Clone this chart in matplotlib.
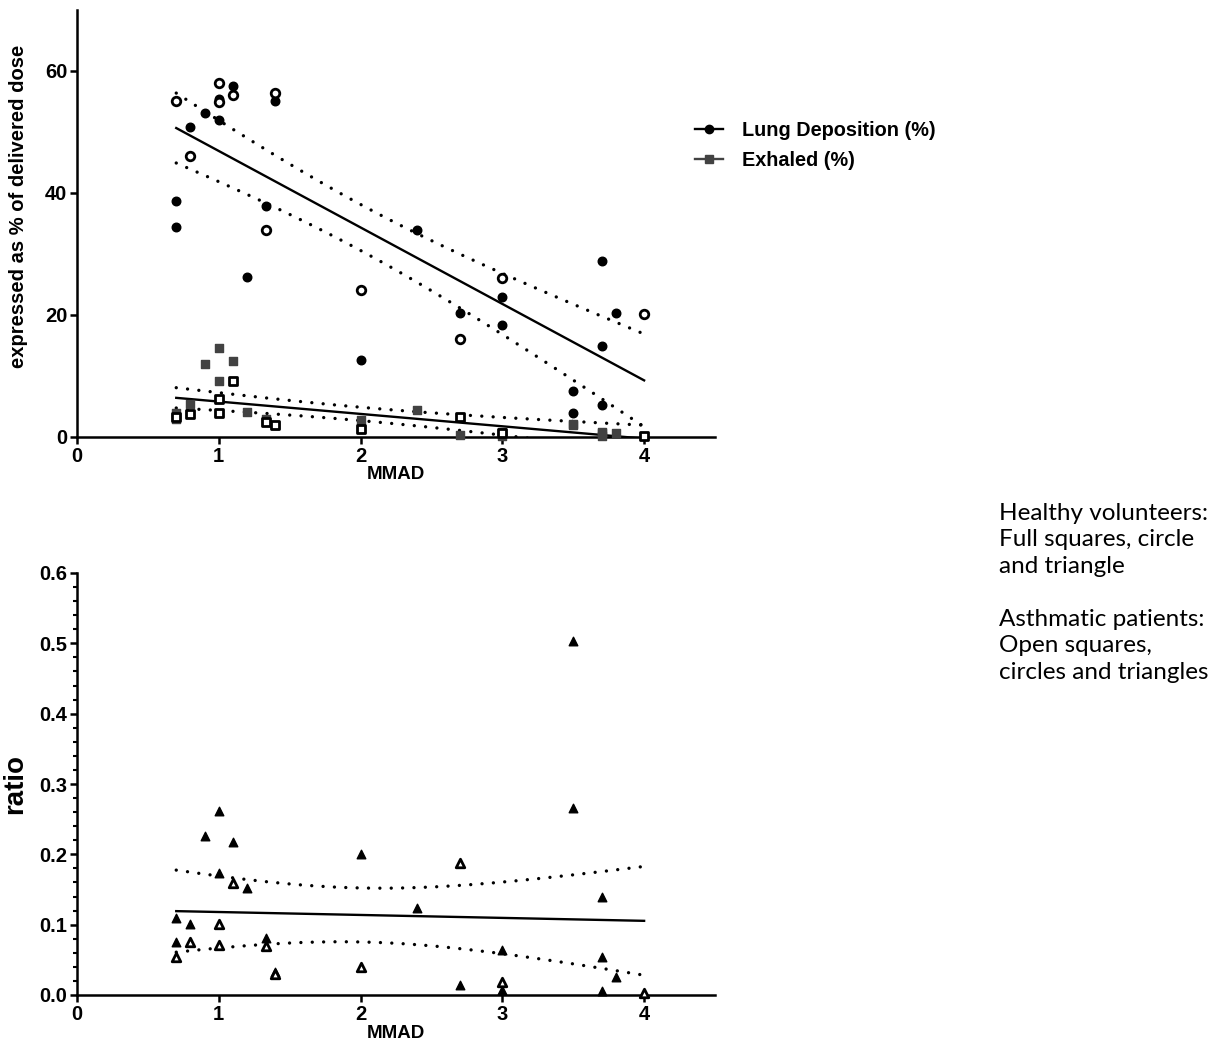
import numpy as np
import matplotlib
matplotlib.use("Agg")
import matplotlib.pyplot as plt
from matplotlib.lines import Line2D
from matplotlib.ticker import MultipleLocator

# ---------------- data ----------------
# Lung deposition (%) - healthy volunteers (filled circles)
lung_h_x = [0.7, 0.7, 0.8, 0.9, 1.0, 1.0, 1.1, 1.2, 1.33, 1.4, 2.0, 2.4, 2.7, 3.0, 3.0, 3.5, 3.5, 3.7, 3.7, 3.7, 3.8]
lung_h_y = [38.7, 34.4, 50.8, 53.1, 55.4, 52.0, 57.5, 26.3, 37.9, 55.1, 12.6, 34.0, 20.3, 23.0, 18.3, 7.6, 4.0, 28.9, 14.9, 5.2, 20.3]
# Lung deposition (%) - asthmatic patients (open circles)
lung_a_x = [0.7, 0.8, 1.0, 1.0, 1.1, 1.33, 1.4, 2.0, 2.7, 3.0, 4.0]
lung_a_y = [55.1, 46.0, 58.0, 55.0, 56.1, 33.9, 56.4, 24.1, 16.1, 26.1, 20.2]

# Exhaled (%) - healthy (filled squares)
exh_h_x = [0.7, 0.7, 0.8, 0.9, 1.0, 1.0, 1.1, 1.2, 1.33, 1.4, 2.0, 2.4, 2.7, 3.0, 3.0, 3.5, 3.5, 3.7, 3.7, 3.7, 3.8]
exh_h_y = [4.0, 2.9, 5.4, 12.0, 14.6, 9.1, 12.5, 4.1, 3.0, 2.0, 2.8, 4.4, 0.4, 0.9, 0.2, 2.1, 2.0, 0.7, 0.8, 0.15, 0.6]
# Exhaled (%) - asthmatic (open squares)
exh_a_x = [0.7, 0.8, 1.0, 1.0, 1.1, 1.33, 1.4, 2.0, 2.7, 3.0, 4.0]
exh_a_y = [3.3, 3.8, 6.2, 3.9, 9.1, 2.5, 2.0, 1.3, 3.2, 0.6, 0.2]

# Ratio - healthy (filled triangles)
ratio_h_x = [0.7, 0.7, 0.8, 0.9, 1.0, 1.0, 1.1, 1.2, 1.33, 1.4, 2.0, 2.4, 2.7, 3.0, 3.0, 3.5, 3.5, 3.7, 3.7, 3.7, 3.8]
ratio_h_y = [0.109, 0.076, 0.1006, 0.226, 0.262, 0.173, 0.218, 0.152, 0.0815, 0.033, 0.200, 0.123, 0.014, 0.064, 0.007, 0.503, 0.266, 0.140, 0.0536, 0.005, 0.026]
# Ratio - asthmatic (open triangles)
ratio_a_x = [0.7, 0.8, 1.0, 1.0, 1.1, 1.33, 1.4, 2.0, 2.7, 3.0, 4.0]
ratio_a_y = [0.0545, 0.076, 0.101, 0.071, 0.159, 0.069, 0.03, 0.040, 0.187, 0.018, 0.003]

legend_labels = ["Lung Deposition (%)", "Exhaled (%)"]
note_lines = ["Healthy volunteers:", "Full squares, circle", "and triangle", "",
              "Asthmatic patients:", "Open squares,", "circles and triangles"]

# ---------------- helpers ----------------
GRAY = "#424242"
BOLD = dict(family="Liberation Sans", weight="bold")
TICK_FS = 14.5


def t_quant(df, z=1.959964):
    return (z + (z**3 + z) / (4 * df) + (5 * z**5 + 16 * z**3 + 3 * z) / (96 * df**2)
            + (3 * z**7 + 19 * z**5 + 17 * z**3 - 15 * z) / (384 * df**3))


def fit_with_ci(ax, x, y, color="black"):
    x = np.asarray(x, float)
    y = np.asarray(y, float)
    n = len(x)
    b, a = np.polyfit(x, y, 1)
    res = y - (a + b * x)
    s = np.sqrt(np.sum(res**2) / (n - 2))
    xm = x.mean()
    sxx = np.sum((x - xm) ** 2)
    xs = np.linspace(x.min(), x.max(), 200)
    yf = a + b * xs
    hw = t_quant(n - 2) * s * np.sqrt(1.0 / n + (xs - xm) ** 2 / sxx)
    ax.plot(xs, yf, color=color, lw=1.7, zorder=2)
    for yy in (yf + hw, yf - hw):
        ax.plot(xs, yy, color=color, lw=2.4, linestyle=(0, (0.01, 3.4)),
                dash_capstyle="round", zorder=2)


def style_axes(ax):
    for sp in ("top", "right"):
        ax.spines[sp].set_visible(False)
    for sp in ("left", "bottom"):
        ax.spines[sp].set_linewidth(1.8)
    ax.tick_params(axis="both", which="major", width=1.8, length=5, labelsize=TICK_FS, pad=2)
    ax.tick_params(axis="both", which="minor", width=1.5, length=3)
    for lab in ax.get_xticklabels() + ax.get_yticklabels():
        lab.set_fontfamily("Liberation Sans")
        lab.set_fontweight("bold")


ms = 38

fig = plt.figure(figsize=(12.25, 10.59), dpi=100)

# ---------------- top panel ----------------
ax1 = fig.add_axes([77 / 1225, 1 - 437 / 1059, (715 - 77) / 1225, (437 - 10) / 1059])
ax1.set_xlim(0, 4.5)
ax1.set_ylim(0, 70)
ax1.set_xticks([0, 1, 2, 3, 4])
ax1.set_yticks([0, 20, 40, 60])

fit_with_ci(ax1, lung_h_x + lung_a_x, lung_h_y + lung_a_y)
fit_with_ci(ax1, exh_h_x + exh_a_x, exh_h_y + exh_a_y)

ax1.scatter(lung_h_x, lung_h_y, s=ms, marker="o", color="black", zorder=3, clip_on=False)
ax1.scatter(lung_a_x, lung_a_y, s=ms, marker="o", facecolor="white", edgecolor="black",
            linewidth=2.0, zorder=4, clip_on=False)
ax1.scatter(exh_h_x, exh_h_y, s=ms, marker="s", color=GRAY, zorder=3, clip_on=False)
ax1.scatter(exh_a_x, exh_a_y, s=ms, marker="s", facecolor="white", edgecolor="black",
            linewidth=2.0, zorder=4, clip_on=False)

style_axes(ax1)
ax1.set_xlabel("MMAD", fontsize=13.5, labelpad=0, **BOLD)
ax1.set_ylabel("expressed as % of delivered dose", fontsize=14.5, **BOLD)
ax1.yaxis.set_label_coords(-0.077, 0.54)

handles = [Line2D([0], [0], color="black", lw=1.7, marker="o", markersize=6),
           Line2D([0], [0], color=GRAY, lw=1.7, marker="s", markersize=6)]
fig.legend(handles, legend_labels, loc="upper left", bbox_to_anchor=(677 / 1225, 1 - 103 / 1059),
           frameon=False, handlelength=1.4, handletextpad=0.95, labelspacing=0.55,
           prop=dict(family="Liberation Sans", weight="bold", size=14.3))

# ---------------- bottom panel ----------------
ax2 = fig.add_axes([77 / 1225, 1 - 995 / 1059, (715 - 77) / 1225, (995 - 573) / 1059])
ax2.set_xlim(0, 4.5)
ax2.set_ylim(0, 0.6)
ax2.set_xticks([0, 1, 2, 3, 4])
ax2.set_yticks(np.arange(0, 0.61, 0.1))
ax2.yaxis.set_minor_locator(MultipleLocator(0.02))
ax2.yaxis.set_major_formatter(matplotlib.ticker.FormatStrFormatter("%.1f"))

fit_with_ci(ax2, ratio_h_x + ratio_a_x, ratio_h_y + ratio_a_y)
ax2.scatter(ratio_h_x, ratio_h_y, s=ms, marker="^", color="black", zorder=3, clip_on=False)
ax2.scatter(ratio_a_x, ratio_a_y, s=ms, marker="^", facecolor="white", edgecolor="black",
            linewidth=2.0, zorder=4, clip_on=False)

style_axes(ax2)
ax2.set_xlabel("MMAD", fontsize=13.5, labelpad=1, **BOLD)
ax2.set_ylabel("ratio", fontsize=20, labelpad=8, **BOLD)

# ---------------- side note ----------------
y0 = 513
for i, line in enumerate(note_lines):
    fig.text(999 / 1225, 1 - (y0 + i * 26.6) / 1059, line, fontsize=17.5, family="Lato",
             va="center", ha="left")

fig.savefig("out.png", dpi=100)
